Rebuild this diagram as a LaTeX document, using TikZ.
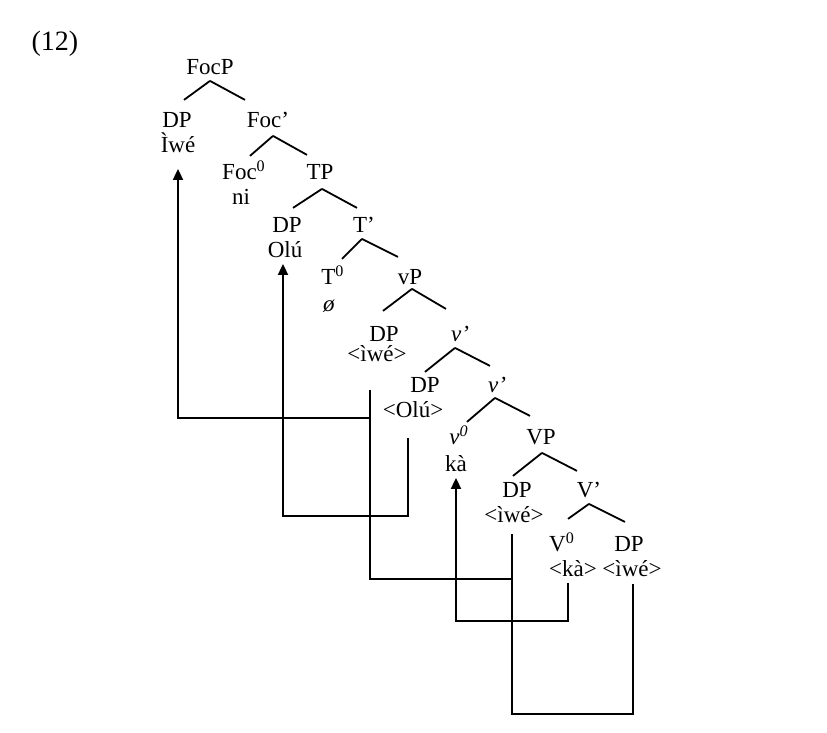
\documentclass[tikz,border=0pt]{standalone}
\usepackage{fontspec}
\setmainfont{Liberation Serif}
\usetikzlibrary{arrows.meta}
\tikzset{cat/.style={anchor=base, inner sep=2.5pt, text height=7.6pt, text depth=0pt},
  lex/.style={anchor=base, inner sep=2.5pt, text depth=0pt},
  move/.style={-{Triangle[width=5pt,length=5.5pt]}}}

\begin{document}
\begin{tikzpicture}[
  x=0.5pt, y=-0.5pt,
  font=\fontsize{11.5}{14}\selectfont,
  line width=0.9pt
]
\useasboundingbox (0,0) rectangle (827,733);
\node[anchor=base, font=\fontsize{14}{16}\selectfont] (num) at (55,51) {(12)};

% the tree
\node[cat] (focp) at (210,75) {FocP};
\node[cat] (dp1) at (177,128) {DP};
\node[lex] (iwe1) at (178,153) {Ìwé};
\node[cat] (focbar) at (268,128) {Foc’};
\node[cat] (foc0) at (244,180) {Foc\textsuperscript{0}};
\node[lex] (ni) at (241,205) {ni};
\node[cat] (tp) at (320,180) {TP};
\node[cat] (dp2) at (287,233) {DP};
\node[lex] (olu1) at (285,258) {Olú};
\node[cat] (tbar) at (364,233) {T’};
\node[cat] (t0) at (333,285) {T\textsuperscript{0}};
\node[lex] (null) at (329,312) {\textit{ø}};
\node[cat] (vp) at (410,285) {vP};
\node[cat] (dp3) at (384,342) {DP};
\node[lex] (iwe2) at (377,362) {<ìwé>};
\node[cat] (vbar1) at (460,342) {\textit{v’}};
\node[cat] (dp4) at (425,393) {DP};
\node[lex] (olu2) at (413,418) {<Olú>};
\node[cat] (vbar2) at (497,393) {\textit{v’}};
\node[cat] (v0) at (459,445) {\textit{v\textsuperscript{0}}};
\node[lex] (ka1) at (456,472) {kà};
\node[cat] (bigvp) at (541,445) {VP};
\node[cat] (dp5) at (517,498) {DP};
\node[lex] (iwe3) at (514,523) {<ìwé>};
\node[cat] (bigvbar) at (589,498) {V’};
\node[cat] (bigv0) at (562,552) {V\textsuperscript{0}};
\node[lex] (ka2) at (573,577) {<kà>};
\node[cat] (dp6) at (629,552) {DP};
\node[lex] (iwe4) at (632,577) {<ìwé>};

% branches
\draw (focp.south) -- ([shift={(7,-7)}]dp1.north);
\draw (focp.south) -- ([shift={(-23,-7)}]focbar.north);
\draw ([shift={(5,2)}]focbar.south) -- ([shift={(6,-3)}]foc0.north);
\draw ([shift={(5,2)}]focbar.south) -- ([shift={(-13,-4)}]tp.north);
\draw ([shift={(2,3)}]tp.south) -- ([shift={(6,-4)}]dp2.north);
\draw ([shift={(2,3)}]tp.south) -- ([shift={(-7,-4)}]tbar.north);
\draw ([shift={(-2,0)}]tbar.south) -- ([shift={(9,-5)}]t0.north);
\draw ([shift={(-2,0)}]tbar.south) -- ([shift={(-12,-7)}]vp.north);
\draw ([shift={(2,-2)}]vp.south) -- ([shift={(-1,-10)}]dp3.north);
\draw ([shift={(2,-2)}]vp.south) -- ([shift={(-14,-12)}]vbar1.north);
\draw ([shift={(-5,0)}]vbar1.south) -- (dp4.north);
\draw ([shift={(-5,0)}]vbar1.south) -- ([shift={(-7,-6)}]vbar2.north);
\draw ([shift={(-2,-1)}]vbar2.south) -- ([shift={(8,-2)}]v0.north);
\draw ([shift={(-2,-1)}]vbar2.south) -- ([shift={(-11,-8)}]bigvp.north);
\draw ([shift={(1,2)}]bigvp.south) -- ([shift={(-4,-1)}]dp5.north);
\draw ([shift={(1,2)}]bigvp.south) -- ([shift={(-12,-6)}]bigvbar.north);
\draw (bigvbar.south) -- ([shift={(6,-12)}]bigv0.north);
\draw (bigvbar.south) -- ([shift={(-4,-9)}]dp6.north);

% movement
\draw ([shift={(1,1)}]iwe4.south) -- ++(0,130) -| ([shift={(-2,5)}]iwe3.south);
\draw ([shift={(-7,22)}]iwe2.south) |- ([shift={(-2,50)}]iwe3.south);
\draw[move] ([shift={(-7,50)}]iwe2.south) -| ([shift={(0,10)}]iwe1.south);
\draw[move] ([shift={(-5,14)}]olu2.south) -- ++(0,78) -| ([shift={(-2,0)}]olu1.south);
\draw[move] ([shift={(-5,0)}]ka2.south) -- ++(0,38) -| (ka1.south);
\end{tikzpicture}
\end{document}
